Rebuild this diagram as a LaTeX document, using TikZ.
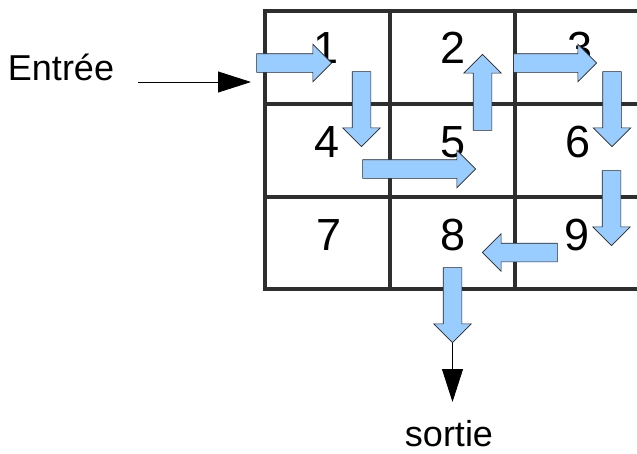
\documentclass[tikz,border=0pt]{standalone}
\usepackage{fontspec}
\setmainfont{Liberation Sans}
\usepackage{xcolor}
\usetikzlibrary{shapes.arrows, arrows.meta}
\definecolor{blockblue}{HTML}{99CCFF}
\definecolor{gridgray}{HTML}{2E2E2E}

\begin{document}
\begin{tikzpicture}[x=1pt, y=-1pt,
  num/.style = {font=\fontsize{45}{45}\selectfont, inner sep=0pt},
  word/.style = {font=\fontsize{36}{36}\selectfont, inner sep=0pt, anchor=base},
  block/.style = {single arrow, draw=black!85, fill=blockblue, line width=0.6pt,
    inner xsep=0pt, inner ysep=9pt, single arrow head extend=9.5pt, minimum height=75pt},
  gridline/.style = {draw=gridgray, line width=3.4pt, line cap=rect},
  inout/.style = {draw=black, line width=0.8pt, -{Triangle[length=33pt, width=21pt]}}]
\useasboundingbox (0,0) rectangle (637,453);
% grid
\foreach \x in {265, 390, 515} \draw[gridline] (\x,11) -- (\x,289);
\foreach \y in {11, 104, 197, 289} \draw[gridline] (265,\y) -- (637,\y);
% cells
\node[num] (n1) at (326,48) {1};
\node[num] (n2) at (453,48) {2};
\node[num] (n3) at (580,48) {3};
\node[num] (n4) at (327,142) {4};
\node[num] (n5) at (453,142) {5};
\node[num] (n6) at (578,142) {6};
\node[num] (n7) at (329,235) {7};
\node[num] (n8) at (453,235) {8};
\node[num] (n9) at (577,235) {9};
% path through the cells
\node[block] (a1) at (289.5,63) {};
\node[block, rotate=-90] (a2) at (361.5,104.5) {};
\node[block, minimum height=113pt] (a3) at (414.5,169) {};
\node[block, rotate=90, minimum height=76pt] (a4) at (482.5,97) {};
\node[block, minimum height=83pt] (a5) at (550.5,63) {};
\node[block, rotate=-90] (a6) at (612,104.5) {};
\node[block, rotate=-90] (a7) at (611.5,203.5) {};
\node[block, rotate=180] (a8) at (524.5,252.5) {};
\node[block, rotate=-90] (a9) at (452.5,300.5) {};
% in and out
\node[word] (entree) at (61,80) {Entrée};
\coordinate (instart) at (138,82);
\coordinate (intip) at (251,82);
\draw[inout] (instart) -- (intip);
\node[word] (sortie) at (449,446) {sortie};
\coordinate (outtip) at (452.5,402);
\draw[inout] (a9.tip) -- (outtip);
\end{tikzpicture}
\end{document}
